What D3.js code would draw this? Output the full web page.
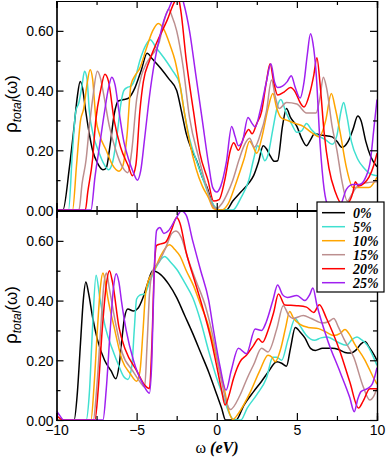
<!DOCTYPE html>
<html><head><meta charset="utf-8">
<script src="https://cdn.jsdelivr.net/npm/d3@7"></script>
<style>html,body{margin:0;padding:0;background:#fff;}svg{display:block;}</style>
</head><body>
<script>
// ---- data ----
const seriesNames = ["0%","5%","10%","15%","20%","25%"];
const seriesColors = ["#000000","#40E0D0","#FFA500","#BC8F8F","#FF0000","#A020F0"];
const xTickMajor = [-10,-5,0,5,10];
const xTickMinor = [-7.5,-2.5,2.5,7.5];
const yTickMajor = [0,0.2,0.4,0.6];
const yTickMinor = [0.1,0.3,0.5];

// top panel
const top0 = [[-10,0],[-9.6,0],[-9.2,0.14],[-8.9,0.28],[-8.7,0.38],[-8.52,0.43],[-8.38,0.41],[-8.2,0.34],[-8.0,0.27],[-7.75,0.2],[-7.45,0.158],[-7.1,0.135],[-6.9,0.14],[-6.65,0.22],[-6.4,0.32],[-6.15,0.365],[-5.8,0.37],[-5.5,0.375],[-5.1,0.41],[-4.7,0.47],[-4.35,0.525],[-4.0,0.505],[-3.5,0.475],[-3.0,0.44],[-2.5,0.40],[-2.2,0.33],[-1.9,0.255],[-1.55,0.2],[-1.25,0.165],[-0.9,0.11],[-0.6,0.075],[-0.3,0.025],[0,0],[0.6,0],[1.0,0.03],[1.5,0.06],[2.0,0.09],[2.3,0.115],[2.6,0.16],[2.9,0.215],[3.1,0.205],[3.35,0.18],[3.6,0.163],[3.8,0.165],[4.1,0.28],[4.35,0.34],[4.6,0.31],[5.0,0.28],[5.3,0.24],[5.6,0.215],[5.85,0.235],[6.1,0.255],[6.6,0.25],[7.2,0.245],[7.5,0.23],[7.8,0.21],[8.2,0.23],[8.5,0.27],[8.8,0.315],[9.0,0.3],[9.3,0.23],[9.6,0.18],[10,0.145]];
const top5 = [[-10,0],[-9.25,0],[-9.0,0.2],[-8.8,0.33],[-8.6,0.36],[-8.4,0.42],[-8.25,0.465],[-8.1,0.44],[-7.95,0.33],[-7.7,0.25],[-7.4,0.2],[-7.0,0.15],[-6.75,0.135],[-6.5,0.16],[-6.2,0.26],[-6.0,0.35],[-5.8,0.40],[-5.6,0.41],[-5.35,0.415],[-5.1,0.44],[-4.8,0.5],[-4.4,0.555],[-4.15,0.57],[-3.8,0.545],[-3.3,0.51],[-2.8,0.47],[-2.3,0.42],[-2.0,0.32],[-1.7,0.24],[-1.3,0.17],[-0.9,0.11],[-0.5,0.05],[-0.1,0.01],[0.3,0],[1.0,0],[1.5,0.04],[2.0,0.1],[2.3,0.17],[2.55,0.215],[2.8,0.19],[3.0,0.165],[3.2,0.185],[3.5,0.27],[3.8,0.35],[4.0,0.37],[4.3,0.33],[4.7,0.285],[5.0,0.26],[5.3,0.265],[5.6,0.29],[5.9,0.27],[6.3,0.25],[6.8,0.235],[7.2,0.22],[7.5,0.25],[7.75,0.33],[7.92,0.36],[8.1,0.32],[8.4,0.23],[8.8,0.17],[9.2,0.14],[9.6,0.12],[10,0.115]];
const top10 = [[-10,0],[-9.0,0],[-8.75,0.15],[-8.5,0.3],[-8.3,0.34],[-8.1,0.42],[-7.9,0.47],[-7.75,0.44],[-7.55,0.31],[-7.3,0.25],[-6.9,0.2],[-6.5,0.15],[-6.1,0.13],[-5.85,0.15],[-5.6,0.25],[-5.35,0.42],[-5.1,0.45],[-4.8,0.475],[-4.4,0.54],[-4.0,0.6],[-3.65,0.625],[-3.3,0.605],[-2.9,0.55],[-2.6,0.5],[-2.3,0.42],[-2.0,0.32],[-1.7,0.23],[-1.3,0.14],[-0.9,0.08],[-0.5,0.04],[-0.2,0.005],[0.3,0],[0.7,0.02],[1.2,0.09],[1.7,0.17],[2.05,0.23],[2.25,0.215],[2.5,0.19],[2.8,0.24],[3.2,0.34],[3.5,0.39],[3.75,0.34],[4.0,0.31],[4.4,0.3],[4.9,0.29],[5.4,0.28],[5.9,0.26],[6.4,0.245],[6.8,0.3],[7.15,0.39],[7.4,0.34],[7.7,0.26],[8.1,0.14],[8.5,0.075],[9.0,0.075],[9.5,0.075],[10,0.11]];
const top15 = [[-10,0],[-8.6,0],[-8.4,0.09],[-8.15,0.17],[-7.95,0.28],[-7.75,0.37],[-7.45,0.465],[-7.25,0.44],[-7.1,0.4],[-6.7,0.28],[-6.3,0.2],[-5.9,0.145],[-5.55,0.125],[-5.3,0.2],[-5.0,0.37],[-4.7,0.45],[-4.4,0.49],[-4.1,0.515],[-3.6,0.56],[-3.25,0.64],[-3.0,0.672],[-2.8,0.65],[-2.5,0.6],[-2.1,0.48],[-1.7,0.31],[-1.1,0.17],[-0.6,0.07],[-0.3,0.02],[0,0.005],[0.3,0.02],[0.7,0.06],[1.0,0.1],[1.4,0.17],[1.7,0.215],[2.05,0.24],[2.35,0.21],[2.7,0.25],[3.1,0.33],[3.42,0.435],[3.65,0.38],[3.9,0.34],[4.35,0.36],[5.0,0.355],[5.6,0.325],[6.2,0.325],[6.45,0.38],[6.65,0.445],[6.85,0.41],[7.2,0.28],[7.5,0.2],[7.8,0.1],[8.15,0.03],[8.4,0.05],[8.7,0.075],[9.2,0.09],[10,0.095]];
const top20 = [[-10,0],[-8.2,0],[-8.05,0.06],[-7.75,0.17],[-7.55,0.3],[-7.25,0.4],[-6.98,0.455],[-6.75,0.43],[-6.4,0.3],[-6.0,0.21],[-5.5,0.145],[-5.27,0.115],[-5.05,0.15],[-4.8,0.33],[-4.58,0.43],[-4.2,0.5],[-3.75,0.56],[-3.1,0.635],[-2.6,0.7],[-2.4,0.71],[-2.25,0.67],[-1.9,0.5],[-1.45,0.33],[-1.05,0.19],[-0.55,0.1],[-0.2,0.03],[0.15,0.035],[0.5,0.1],[0.85,0.2],[1.05,0.225],[1.35,0.2],[1.7,0.245],[2.0,0.27],[2.2,0.255],[2.5,0.29],[2.8,0.33],[3.1,0.43],[3.33,0.49],[3.55,0.43],[3.8,0.385],[4.2,0.395],[4.6,0.41],[4.9,0.395],[5.2,0.36],[5.45,0.345],[5.8,0.39],[6.05,0.45],[6.25,0.51],[6.45,0.42],[6.7,0.26],[7.0,0.14],[7.4,0.06],[7.8,0.02],[8.2,0.025],[8.5,0.06],[8.65,0.095],[8.85,0.08],[9.2,0.09],[9.5,0.11],[9.8,0.15],[10,0.19]];
const top25 = [[-10,0],[-7.85,0],[-7.6,0.11],[-7.3,0.22],[-7.0,0.33],[-6.75,0.41],[-6.55,0.445],[-6.35,0.42],[-6.1,0.33],[-5.8,0.23],[-5.5,0.17],[-5.2,0.125],[-4.95,0.1],[-4.75,0.13],[-4.5,0.24],[-4.2,0.38],[-3.9,0.49],[-3.6,0.57],[-3.3,0.635],[-2.95,0.68],[-2.6,0.72],[-2.3,0.73],[-2.05,0.69],[-1.7,0.6],[-1.3,0.45],[-0.9,0.3],[-0.5,0.15],[-0.25,0.075],[0,0.06],[0.25,0.08],[0.6,0.16],[0.93,0.28],[1.15,0.245],[1.35,0.215],[1.6,0.23],[1.95,0.31],[2.2,0.29],[2.4,0.278],[2.7,0.33],[3.1,0.43],[3.38,0.49],[3.6,0.43],[3.8,0.41],[4.1,0.415],[4.4,0.43],[4.65,0.45],[4.9,0.41],[5.2,0.375],[5.45,0.43],[5.65,0.52],[5.85,0.59],[6.0,0.56],[6.2,0.46],[6.45,0.22],[6.7,0.07],[6.95,0.015],[7.3,0.005],[7.7,0.015],[8.1,0.07],[8.5,0.085],[8.9,0.085],[9.3,0.11],[9.6,0.17],[9.8,0.27],[10,0.37]];

// bottom panel
const bot0 = [[-10,0],[-8.9,0],[-8.7,0.09],[-8.5,0.26],[-8.33,0.4],[-8.17,0.462],[-8.0,0.425],[-7.75,0.345],[-7.45,0.27],[-7.0,0.2],[-6.6,0.165],[-6.3,0.138],[-6.1,0.18],[-5.9,0.28],[-5.75,0.345],[-5.55,0.372],[-5.2,0.365],[-4.9,0.375],[-4.6,0.41],[-4.3,0.46],[-4.0,0.5],[-3.5,0.487],[-3.0,0.455],[-2.5,0.41],[-2.0,0.35],[-1.5,0.29],[-1.0,0.225],[-0.5,0.16],[0,0.085],[0.3,0.04],[0.55,0],[1.2,0],[1.7,0.05],[2.3,0.095],[2.8,0.13],[3.2,0.16],[3.75,0.195],[4.05,0.19],[4.35,0.18],[4.6,0.24],[4.9,0.31],[5.2,0.295],[5.5,0.275],[5.85,0.24],[6.15,0.233],[6.6,0.24],[7.2,0.24],[7.6,0.236],[8.0,0.226],[8.35,0.224],[8.7,0.235],[9.0,0.255],[9.25,0.263],[9.5,0.245],[9.8,0.22],[10,0.2]];
const bot5 = [[-10,0],[-8.15,0],[-7.95,0.09],[-7.75,0.31],[-7.53,0.485],[-7.3,0.41],[-6.95,0.31],[-6.5,0.235],[-6.1,0.18],[-5.8,0.145],[-5.55,0.136],[-5.3,0.18],[-5.15,0.3],[-5.0,0.405],[-4.8,0.418],[-4.5,0.422],[-4.2,0.46],[-3.8,0.51],[-3.25,0.548],[-2.9,0.53],[-2.5,0.505],[-2.0,0.46],[-1.5,0.41],[-1.0,0.33],[-0.5,0.23],[0,0.14],[0.4,0.08],[0.8,0.02],[1.1,0],[1.5,0],[1.9,0.04],[2.5,0.085],[3.1,0.14],[3.5,0.21],[3.75,0.21],[4.05,0.2],[4.45,0.27],[4.9,0.34],[5.2,0.315],[5.6,0.283],[6.1,0.267],[6.5,0.275],[6.9,0.278],[7.5,0.262],[8.1,0.25],[8.45,0.27],[8.75,0.278],[9.0,0.27],[9.4,0.25],[9.7,0.22],[10,0.183]];
const bot10 = [[-10,0],[-7.85,0],[-7.65,0.12],[-7.44,0.31],[-7.25,0.45],[-7.1,0.492],[-6.95,0.46],[-6.8,0.41],[-6.4,0.31],[-5.9,0.2],[-5.4,0.155],[-5.0,0.13],[-4.8,0.16],[-4.6,0.3],[-4.45,0.42],[-4.25,0.47],[-3.95,0.495],[-3.5,0.55],[-2.95,0.587],[-2.6,0.57],[-2.3,0.55],[-1.9,0.5],[-1.45,0.45],[-1.0,0.385],[-0.6,0.33],[-0.2,0.25],[0.2,0.16],[0.45,0.11],[0.75,0.03],[1.0,0.002],[1.35,0.022],[2.1,0.094],[2.7,0.167],[3.2,0.217],[3.45,0.21],[3.65,0.195],[4.0,0.24],[4.3,0.31],[4.55,0.363],[4.8,0.34],[5.2,0.32],[5.7,0.31],[6.35,0.306],[6.8,0.295],[7.3,0.283],[7.7,0.29],[8.0,0.303],[8.3,0.285],[8.6,0.255],[9.2,0.205],[9.8,0.14],[10,0.12]];
const bot15 = [[-10,0],[-7.7,0],[-7.5,0.1],[-7.25,0.3],[-7.05,0.45],[-6.88,0.492],[-6.7,0.44],[-6.3,0.32],[-5.9,0.225],[-5.25,0.165],[-4.75,0.125],[-4.5,0.11],[-4.35,0.25],[-4.2,0.42],[-4.0,0.5],[-3.6,0.53],[-3.2,0.575],[-2.8,0.625],[-2.55,0.633],[-2.2,0.61],[-1.8,0.54],[-1.25,0.46],[-0.7,0.38],[-0.2,0.27],[0.3,0.13],[0.6,0.06],[0.85,0.035],[1.45,0.083],[1.9,0.14],[2.3,0.185],[2.8,0.24],[3.2,0.228],[3.75,0.306],[4.15,0.383],[4.5,0.35],[4.75,0.34],[5.4,0.35],[5.9,0.34],[6.6,0.325],[7.0,0.33],[7.3,0.34],[7.6,0.31],[7.95,0.27],[8.55,0.21],[9.15,0.11],[9.55,0.067],[9.8,0.08],[10,0.106]];
const bot20 = [[-10,0.015],[-9.75,0.004],[-9.5,0],[-7.6,0],[-7.4,0.1],[-7.15,0.3],[-6.9,0.45],[-6.7,0.5],[-6.5,0.46],[-6.1,0.31],[-5.7,0.235],[-5.0,0.165],[-4.5,0.117],[-4.2,0.105],[-4.05,0.25],[-3.9,0.5],[-3.75,0.585],[-3.5,0.59],[-3.2,0.595],[-2.8,0.64],[-2.5,0.678],[-2.3,0.66],[-1.9,0.56],[-1.4,0.47],[-0.9,0.38],[-0.4,0.28],[0,0.18],[0.3,0.1],[0.52,0.05],[0.75,0.08],[1.05,0.14],[1.45,0.195],[1.85,0.217],[2.3,0.25],[2.6,0.272],[2.85,0.26],[3.2,0.3],[3.55,0.36],[3.85,0.422],[4.25,0.385],[5.0,0.383],[5.6,0.378],[6.05,0.36],[6.4,0.386],[6.85,0.34],[7.7,0.228],[8.3,0.128],[8.85,0.04],[9.15,0.065],[9.55,0.105],[10,0.105]];
const bot25 = [[-10,0.03],[-9.8,0.015],[-9.55,0],[-7.1,0],[-6.9,0.1],[-6.65,0.3],[-6.45,0.44],[-6.28,0.49],[-6.1,0.46],[-5.95,0.4],[-5.65,0.3],[-5.2,0.2],[-4.6,0.12],[-4.2,0.09],[-4.05,0.2],[-3.9,0.5],[-3.75,0.635],[-3.55,0.645],[-3.3,0.625],[-3.0,0.635],[-2.6,0.67],[-2.2,0.7],[-1.9,0.685],[-1.5,0.6],[-1.0,0.5],[-0.5,0.4],[-0.2,0.3],[0.2,0.18],[0.58,0.1],[0.9,0.165],[1.35,0.24],[1.85,0.222],[2.4,0.305],[2.8,0.3],[3.1,0.33],[3.5,0.4],[3.8,0.452],[4.1,0.42],[4.4,0.41],[5.0,0.417],[5.5,0.4],[5.8,0.42],[6.0,0.442],[6.25,0.385],[6.9,0.27],[7.7,0.16],[8.3,0.075],[8.58,0.028],[8.8,0.07],[9.0,0.095],[9.4,0.105],[9.7,0.12],[10,0.175]];

const topSeries = [top0, top5, top10, top15, top20, top25];
const botSeries = [bot0, bot5, bot10, bot15, bot20, bot25];

// ---- layout ----
const W = 387, H = 457;
const L = 56.5, R = 377;
const panels = [
  {data: topSeries, y0: 210, y1: 1, xlabels: false, cy: 104},
  {data: botSeries, y0: 420, y1: 211, xlabels: true, cy: 315}
];

const svg = d3.select("body").append("svg").attr("width", W).attr("height", H);
const x = d3.scaleLinear().domain([-10,10]).range([L, R]);

const sans = "'Liberation Sans', Arial, Helvetica, sans-serif";
const serif = "'Liberation Serif', 'Times New Roman', serif";

panels.forEach((p, pi) => {
  const y = d3.scaleLinear().domain([0,0.7]).range([p.y0, p.y1]);
  const g = svg.append("g");
  const clipId = "clip" + pi;
  svg.append("clipPath").attr("id", clipId).append("rect")
    .attr("x", L).attr("y", p.y1).attr("width", R - L).attr("height", p.y0 - p.y1);

  const line = d3.line().x(d => x(d[0])).y(d => y(d[1])).curve(d3.curveMonotoneX);
  const lg = g.append("g").attr("clip-path", `url(#${clipId})`);
  p.data.forEach((s, i) => {
    lg.append("path").attr("d", line(s)).attr("fill", "none")
      .attr("stroke", seriesColors[i]).attr("stroke-width", 1.5).attr("stroke-linejoin","round");
  });

  // axes (inward ticks on all sides)
  const axB = d3.axisBottom(x).tickValues(xTickMajor).tickSize(-7).tickFormat(p.xlabels ? d3.format("d") : () => "");
  const axBm = d3.axisBottom(x).tickValues(xTickMinor).tickSize(-4).tickFormat(() => "");
  const axT = d3.axisTop(x).tickValues(xTickMajor).tickSize(-7).tickFormat(() => "");
  const axTm = d3.axisTop(x).tickValues(xTickMinor).tickSize(-4).tickFormat(() => "");
  const axL = d3.axisLeft(y).tickValues(yTickMajor).tickSize(-7).tickFormat(d3.format(".2f"));
  const axLm = d3.axisLeft(y).tickValues(yTickMinor).tickSize(-4).tickFormat(() => "");
  const axR = d3.axisRight(y).tickValues(yTickMajor).tickSize(-7).tickFormat(() => "");
  const axRm = d3.axisRight(y).tickValues(yTickMinor).tickSize(-4).tickFormat(() => "");

  const addAx = (ax, tr) => {
    const a = g.append("g").attr("transform", tr).call(ax);
    a.select(".domain").attr("stroke", "#000").attr("stroke-width", 1.2);
    a.selectAll(".tick line").attr("stroke", "#000").attr("stroke-width", 1.2);
    a.selectAll("text").attr("font-family", sans).attr("font-size", 14).attr("fill", "#000");
    return a;
  };
  const b = addAx(axB, `translate(0,${p.y0})`);
  b.selectAll("text").attr("y", 5).attr("dy", "0.71em");
  addAx(axBm, `translate(0,${p.y0})`);
  addAx(axT, `translate(0,${p.y1})`);
  addAx(axTm, `translate(0,${p.y1})`);
  const l = addAx(axL, `translate(${L},0)`);
  l.selectAll("text").attr("x", -3).attr("dy", "0.36em");
  addAx(axLm, `translate(${L},0)`);
  addAx(axR, `translate(${R},0)`);
  addAx(axRm, `translate(${R},0)`);

  // y label
  const t = svg.append("text").attr("transform", `translate(17,${p.cy}) rotate(-90)`)
    .attr("text-anchor", "middle").attr("fill", "#000");
  t.append("tspan").attr("font-family", sans).attr("font-size", 19).text("ρ");
  t.append("tspan").attr("font-family", sans).attr("font-style", "italic").attr("font-size", 12).attr("dy", 4).text("total");
  t.append("tspan").attr("font-family", sans).attr("font-size", 17).attr("dy", -4).text("(ω)");
});

// x title
const xt = svg.append("text").attr("x", 217).attr("y", 453).attr("text-anchor", "middle")
  .attr("font-family", serif).attr("font-size", 16).attr("fill", "#000");
xt.append("tspan").text("ω ");
xt.append("tspan").attr("font-style", "italic").attr("font-weight", "bold").text("(eV)");

// legend
const lgX = 317, lgY = 202;
const leg = svg.append("g");
leg.append("rect").attr("x", lgX).attr("y", lgY).attr("width", 67).attr("height", 90)
  .attr("fill", "#fff").attr("stroke", "#000").attr("stroke-width", 1.2);
seriesNames.forEach((n, i) => {
  const cy = lgY + 10.7 + i * 14;
  leg.append("line").attr("x1", lgX + 5).attr("x2", lgX + 28).attr("y1", cy).attr("y2", cy)
    .attr("stroke", seriesColors[i]).attr("stroke-width", 1.5);
  leg.append("text").attr("x", lgX + 36).attr("y", cy + 5).text(n)
    .attr("font-family", serif).attr("font-style", "italic").attr("font-weight", "bold")
    .attr("font-size", 14).attr("fill", "#000");
});
</script>
</body></html>
